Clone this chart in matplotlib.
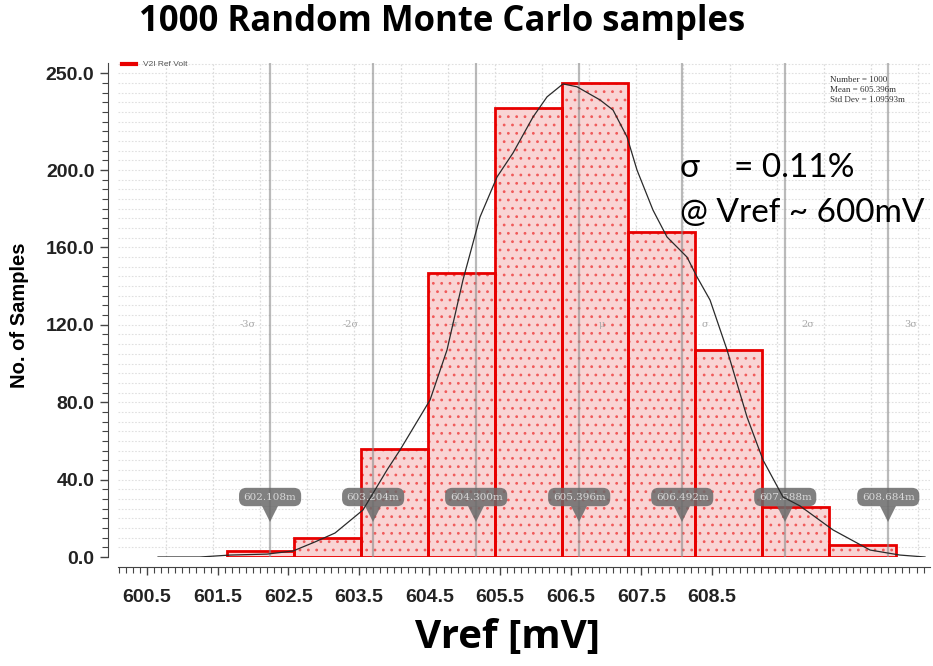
import numpy as np
import matplotlib
matplotlib.use("Agg")
import matplotlib.pyplot as plt

# ---------------- data ----------------
bin_edges = [601.65, 602.36, 603.07, 603.79, 604.50, 605.21, 605.92, 606.63, 607.34, 608.05, 608.77]
counts = [3, 10, 56, 147, 232, 245, 168, 107, 26, 6]

curve_x = [600.916, 601.362, 601.681, 602.075, 602.352, 602.586, 602.799, 603.096, 603.352, 603.49,
           603.809, 603.99, 604.16, 604.341, 604.522, 604.692, 604.905, 605.054, 605.224, 605.373,
           605.618, 605.756, 605.905, 606.011, 606.181, 606.33, 606.543, 606.65, 606.788, 606.969,
           607.181, 607.352, 607.564, 607.745, 608.096, 608.49, 608.809, 609.075]
curve_y = [0.0, 0.0, 1.0, 1.5, 3.1, 7.8, 12.4, 24.3, 45.0, 55.3,
           81.1, 107.0, 143.2, 175.7, 196.4, 208.8, 227.4, 237.8, 244.5, 243.0,
           236.2, 231.0, 217.1, 200.0, 179.3, 165.4, 155.0, 144.7, 132.8, 107.0,
           72.4, 50.1, 31.0, 26.4, 14.0, 3.6, 1.0, 0.0]

sigma_vals = [602.108, 603.204, 604.300, 605.396, 606.492, 607.588, 608.684]
sigma_marks = ["602.108m", "603.204m", "604.300m", "605.396m", "606.492m", "607.588m", "608.684m"]
sigma_names = ["-3σ", "-2σ", "-σ", "μ", "σ", "2σ", "3σ"]

ytick_vals = [0, 40, 80, 120, 160, 200, 250]
ytick_labels = ["0.0", "40.0", "80.0", "120.0", "160.0", "200.0", "250.0"]
xtick_labels = ["600.5", "601.5", "602.5", "603.5", "604.5", "605.5", "606.5", "607.5", "608.5"]

stats_text = "Number = 1000\nMean = 605.396m\nStd Dev = 1.09593m"

# ---------------- figure ----------------
W, H = 933, 666
plt.rcParams["hatch.linewidth"] = 0.8
fig = plt.figure(figsize=(W / 100, H / 100), dpi=100)
ax = fig.add_axes([118 / W, (H - 557) / H, (930 - 118) / W, (557 - 63) / H])

xmin, xmax = 600.49, 609.128
ax.set_xlim(xmin, xmax)
ax.set_ylim(0, 255.3)

# background grid
for v in np.arange(601.0, 609.01, 0.5):
    ax.axvline(v, color="#dcdcdc", lw=0.9, ls=(0, (1.5, 1.5)), zorder=0)
for v in np.arange(5, 256, 5):
    ax.axhline(v, color="#e0e0e0", lw=0.8, ls=(0, (1.5, 1.5)), zorder=0)

# histogram bars: pink fill with red speckle texture, then red outline
widths = np.diff(bin_edges)
ax.bar(bin_edges[:-1], counts, width=widths, align="edge",
       facecolor="#f9d4d4", edgecolor="#f05a5a", linewidth=0,
       hatch="..", zorder=2)
ax.bar(bin_edges[:-1], counts, width=widths, align="edge",
       facecolor="none", edgecolor="#e80000", linewidth=2.0, zorder=2.5)

# sigma lines, labels and markers
for i, (v, m, n) in enumerate(zip(sigma_vals, sigma_marks, sigma_names)):
    ax.axvline(v, color="#8c8c8c", lw=1.6, alpha=0.6, zorder=3)
    off = -0.24 if i < 3 else 0.24
    ax.text(v + off, 120, n, color="#a8a8a8", fontsize=7, family="DejaVu Serif",
            ha="center", va="center", zorder=4)
    ax.plot([v], [22], marker="v", markersize=11, color="#6a6a6a", alpha=0.85,
            markeredgewidth=0, zorder=5)
    ax.text(v, 31, m, color="#d8d8d8", fontsize=7.5, family="DejaVu Serif",
            ha="center", va="center", zorder=6,
            bbox=dict(boxstyle="round,pad=0.45,rounding_size=0.7",
                      facecolor="#6a6a6a", edgecolor="none", alpha=0.85))

# smooth curve
ax.plot(curve_x, curve_y, color="#2a2a2a", lw=0.9, zorder=7)

# axes styling
for s in ["top", "right"]:
    ax.spines[s].set_visible(False)
ax.spines["left"].set_position(("outward", 7))
ax.spines["bottom"].set_position(("outward", 7))
ax.spines["left"].set_color("#444444")
ax.spines["bottom"].set_color("#444444")

ax.set_yticks(ytick_vals, ytick_labels)
ax.set_yticks(np.arange(0, 251, 5), minor=True)
step = 0.751
xtick_pos = [600.799 + step * i for i in range(len(xtick_labels))]
ax.set_xticks(xtick_pos, xtick_labels)
minor_x = [xtick_pos[0] + step / 10 * k for k in range(-4, 111) if xmin <= xtick_pos[0] + step / 10 * k <= xmax]
ax.set_xticks(minor_x, minor=True)

ax.tick_params(axis="both", which="major", length=6, width=1, color="#444444",
               labelsize=14, pad=4)
ax.tick_params(axis="both", which="minor", length=4, width=0.8, color="#444444")
ax.tick_params(axis="x", which="major", pad=10)
for lab in ax.get_xticklabels() + ax.get_yticklabels():
    lab.set_fontweight("bold")
    lab.set_family("Liberation Sans")
    lab.set_color("#222222")

ax.set_ylabel("No. of Samples", fontsize=14.5, fontweight="bold",
              family="Liberation Sans", labelpad=6)
ax.yaxis.set_label_coords(-0.11, 0.49)

# x label and title
fig.text(508 / W, 1 - 638 / H, "Vref [mV]", fontsize=29, fontweight="bold",
         family="Open Sans", ha="center", va="center")
fig.text(442 / W, 1 - 22 / H, "1000 Random Monte Carlo samples", fontsize=25,
         fontweight="bold", family="Open Sans", ha="center", va="center")

# annotation
fig.text(680 / W, 1 - 168 / H, "σ    = 0.11%", fontsize=24, family="Lato",
         ha="left", va="center")
fig.text(680 / W, 1 - 213 / H, "@ Vref ~ 600mV", fontsize=24, family="Lato",
         ha="left", va="center")

# stats box text
fig.text(830 / W, 1 - 90 / H, stats_text, fontsize=6.5, family="Liberation Serif",
         color="#333333", ha="left", va="center", linespacing=1.3)

# legend stub at top-left
fig.add_artist(plt.Line2D([122 / W, 136 / W], [1 - 64 / H, 1 - 64 / H],
                          color="#e80000", lw=3))
fig.text(143 / W, 1 - 64 / H, "V2I Ref Volt", fontsize=6, color="#555555",
         family="Liberation Sans", ha="left", va="center")

fig.savefig("out.png", dpi=100)
